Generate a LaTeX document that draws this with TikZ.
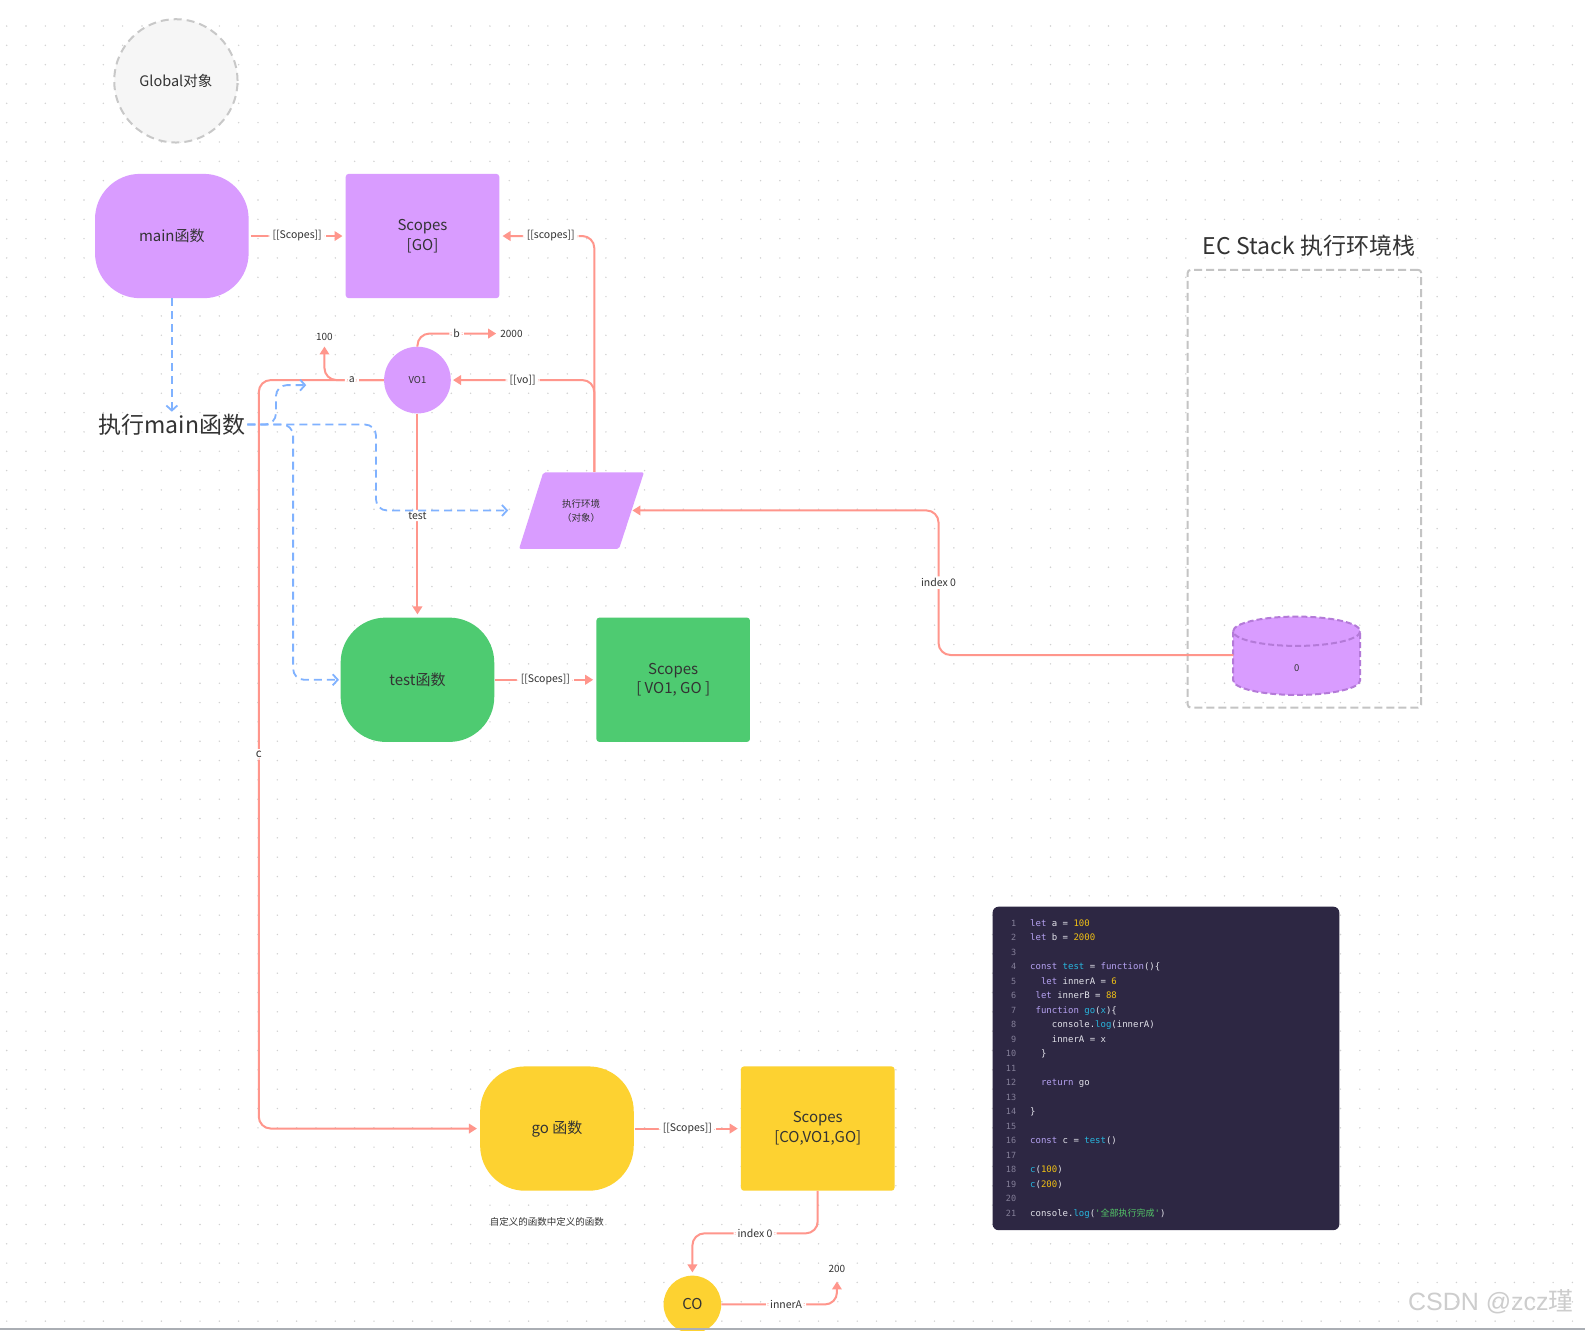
\documentclass[tikz,border=0pt]{standalone}
\usepackage{fontspec}
\setmainfont{Noto Sans CJK SC}
\setmonofont{DejaVu Sans Mono}
\newfontfamily\cjkfont{Noto Sans CJK SC}
\newfontfamily\wmfont{Liberation Sans}
\usetikzlibrary{arrows.meta}
\definecolor{vpurple}{RGB}{217,156,255}
\definecolor{vgreen}{RGB}{78,203,113}
\definecolor{vyellow}{RGB}{253,210,49}
\definecolor{vred}{RGB}{255,150,140}
\definecolor{vblue}{RGB}{128,178,255}
\definecolor{vtext}{RGB}{51,51,51}
\definecolor{vdot}{RGB}{208,208,208}
\definecolor{globaldash}{RGB}{200,200,200}
\definecolor{globalfill}{RGB}{246,246,246}
\definecolor{stackdash}{RGB}{196,196,196}
\definecolor{cyldash}{RGB}{180,122,216}
\definecolor{codebg}{RGB}{45,39,67}
\definecolor{ckw}{RGB}{182,162,242}
\definecolor{cnum}{RGB}{240,192,20}
\definecolor{cfn}{RGB}{40,182,222}
\definecolor{cstr}{RGB}{84,200,104}
\definecolor{cplain}{RGB}{226,226,234}
\definecolor{cln}{RGB}{132,127,152}
\definecolor{wmgray}{RGB}{205,205,205}
\definecolor{bottomgray}{RGB}{170,174,180}
\newcommand\cdK[1]{\textcolor{ckw}{#1}}
\newcommand\cdN[1]{\textcolor{cnum}{#1}}
\newcommand\cdF[1]{\textcolor{cfn}{#1}}
\newcommand\cdS[1]{\textcolor{cstr}{#1}}
\begin{document}
\begin{tikzpicture}[x=1.0108pt,y=-1.0108pt,
  fnbox/.style={rounded corners=45pt, minimum width=153.6pt, minimum height=124.3pt, inner sep=0pt, font=\fontsize{15}{19}\selectfont, text=vtext},
  scopebox/.style={rounded corners=3pt, minimum width=153.6pt, minimum height=124.3pt, inner sep=0pt, align=center, font=\fontsize{15}{19.5}\selectfont, text=vtext},
  redline/.style={draw=vred, line width=2pt, rounded corners=12pt},
  redarrow/.style={redline, -{Triangle[length=8pt,width=9.5pt]}},
  bluearrow/.style={draw=vblue, line width=1.8pt, dash pattern=on 8pt off 5pt, rounded corners=11pt, -{Straight Barb[length=5pt,width=11pt]}},
  elabel/.style={fill=white, inner xsep=4pt, inner ysep=2pt, font=\fontsize{10.5}{12}\selectfont, text=vtext},
  smalltxt/.style={font=\fontsize{10}{12}\selectfont, text=vtext, inner sep=1pt},
  codetxt/.style={font=\ttfamily\fontsize{9}{11}\selectfont, text=cplain, inner sep=0pt, anchor=base west},
  lntxt/.style={font=\ttfamily\fontsize{8.5}{11}\selectfont, text=cln, inner sep=0pt, anchor=base east}
]
\useasboundingbox (0,0) rectangle (1568.07,1315.8);
\fill[white] (0,0) rectangle (1568.07,1315.8);
% dot grid
\begin{scope}[x=1pt,y=-1pt]
\foreach \i in {0,...,81}{\foreach \j in {0,...,67}{\fill[vdot] ({6.7+19.33*\i},{26+19.33*\j}) circle (0.8);}}
\end{scope}

% nodes
\node[circle, draw=globaldash, fill=globalfill, line width=2pt, dash pattern=on 8pt off 5pt, minimum size=123.3pt, inner sep=0pt, font=\fontsize{14.5}{17}\selectfont, text=vtext] (glob) at (174,80) {Global对象};
\node[fnbox, fill=vpurple] (main) at (170,233.5) {main函数};
\node[scopebox, fill=vpurple] (sgo) at (418,233.5) {Scopes\\{[GO]}};
\node[font=\fontsize{23}{27}\selectfont, text=vtext, inner sep=2pt] (exec) at (170,420) {执行main函数};
\node[circle, fill=vpurple, minimum size=66.7pt, inner sep=0pt, font=\fontsize{9.5}{11}\selectfont, text=vtext] (vo1) at (413,376) {VO1};
\node[smalltxt] (v100) at (321,333) {100};
\node[smalltxt] (v2000) at (506,330) {2000};
\fill[vpurple, rounded corners=2pt] (513.5,543.1) -- (537.5,467.3) -- (637.1,467.3) -- (612.4,543.1) -- cycle;
\node[minimum width=100pt, minimum height=76.8pt, inner sep=0pt, align=center, font=\fontsize{9.5}{14}\selectfont, text=vtext] (ee) at (575,505) {执行环境\\（对象）};
\node[fnbox, fill=vgreen] (test) at (413,672.5) {test函数};
\node[scopebox, fill=vgreen] (stest) at (666,672.5) {Scopes\\{[ VO1, GO ]}};
\node[fnbox, fill=vyellow] (go) at (551,1116.5) {go 函数};
\node[scopebox, fill=vyellow] (sco) at (809,1116.5) {Scopes\\{[CO,VO1,GO]}};
\node[font=\fontsize{9.5}{11}\selectfont, text=vtext] (note) at (541,1208.5) {自定义的函数中定义的函数};
\node[circle, fill=vyellow, minimum size=57.6pt, inner sep=0pt, font=\fontsize{15}{18}\selectfont, text=vtext] (co) at (685,1290.5) {CO};
\node[smalltxt] (v200) at (828,1255) {200};

% EC stack
\node[font=\fontsize{23}{27}\selectfont, text=vtext] (ectitle) at (1295,243) {EC Stack 执行环境栈};
\node[draw=stackdash, line width=2pt, dash pattern=on 8pt off 4pt, rounded corners=3pt, minimum width=233.5pt, minimum height=437.7pt, inner sep=0pt] (stack) at (1290.5,483.5) {};
\fill[vpurple] (1220,624.5) rectangle (1345.5,673);
\fill[vpurple] (1282.8,673) ellipse [x radius=62.8, y radius=14.5];
\fill[vpurple] (1282.8,624.5) ellipse [x radius=62.8, y radius=14.5];
\draw[cyldash, line width=2pt, dash pattern=on 6pt off 3pt] (1282.8,624.5) ellipse [x radius=62.8, y radius=14.5];
\draw[cyldash, line width=2pt, dash pattern=on 6pt off 3pt] (1220,624.5) -- (1220,673) arc [start angle=180, end angle=0, x radius=62.8, y radius=14.5] -- (1345.5,624.5);
\node[minimum width=126.4pt, minimum height=78.5pt, inner sep=0pt] (cyl) at (1282.8,648) {};
\node[font=\fontsize{9.5}{11}\selectfont, text=vtext, inner sep=0pt] (cyl0) at (1283,660.5) {0};

% code block
\node[fill=codebg, rounded corners=6pt, minimum width=346.7pt, minimum height=323.5pt, inner sep=0pt] (code) at (1153.5,1057) {};
\foreach \k in {1,...,21}{\node[lntxt] (ln\k) at (1005.5,{916.2+14.35*(\k-1)}) {\k};}
\node[codetxt] (cl1) at (1019,916.2) {\cdK{let} a = \cdN{100}};
\node[codetxt] (cl2) at (1019,930.55) {\cdK{let} b = \cdN{2000}};
\node[codetxt] (cl4) at (1019,959.25) {\cdK{const} \cdF{test} = \cdK{function}()\{};
\node[codetxt] (cl5) at (1019,973.6) {\ \ \cdK{let} innerA = \cdN{6}};
\node[codetxt] (cl6) at (1019,987.95) {\ \cdK{let} innerB = \cdN{88}};
\node[codetxt] (cl7) at (1019,1002.3) {\ \cdK{function} \cdF{go}(\cdF{x})\{};
\node[codetxt] (cl8) at (1019,1016.65) {\ \ \ \ console.\cdF{log}(innerA)};
\node[codetxt] (cl9) at (1019,1031.0) {\ \ \ \ innerA = x};
\node[codetxt] (cl10) at (1019,1045.35) {\ \ \}};
\node[codetxt] (cl12) at (1019,1074.05) {\ \ \cdK{return} go};
\node[codetxt] (cl14) at (1019,1102.75) {\}};
\node[codetxt] (cl16) at (1019,1131.45) {\cdK{const} c = \cdF{test}()};
\node[codetxt] (cl18) at (1019,1160.15) {\cdF{c}(\cdN{100})};
\node[codetxt] (cl19) at (1019,1174.5) {\cdF{c}(\cdN{200})};
\node[codetxt] (cl21) at (1019,1203.2) {console.\cdF{log}(\cdS{'{\cjkfont 全部执行完成}'})};

% red connectors
\draw[redarrow, shorten <=2pt, shorten >=3pt] (main) -- node[elabel] (l1) {[[Scopes]]} (sgo);
\draw[redarrow, shorten >=3pt] ([xshift=13.1pt]ee.north) |- node[elabel, pos=0.73] (l2) {[[scopes]]} (sgo.east);
\draw[redarrow, shorten >=2pt] ([xshift=13.1pt]ee.north) |- node[elabel, pos=0.75] (l3) {[[vo]]} (vo1.east);
\draw[redarrow, shorten >=3pt] (vo1.north) |- node[elabel, pos=0.74] (l4) {b} (v2000.west);
\draw[redarrow, shorten >=3pt] (vo1.west) -- (256,376) |- node[elabel, pos=0.25, font=\fontsize{11.5}{13}\selectfont] (l5) {c} (go.west);
\draw[redarrow, shorten >=5pt] (vo1.west) -| node[elabel, pos=0.27] (l6) {a} (v100.south);
\draw[redarrow, shorten >=3pt] (vo1.south) -- node[elabel] (l7) {test} (test.north);
\draw[redarrow, shorten <=1pt, shorten >=3pt] (test) -- node[elabel] (l8) {[[Scopes]]} (stest);
\draw[redarrow, shorten <=1pt, shorten >=3pt] (go) -- node[elabel] (l9) {[[Scopes]]} (sco);
\draw[redarrow, shorten >=1pt] (cyl.west) -- (928.5,648) |- node[elabel, pos=0.25] (l10) {index 0} (ee.east);
\draw[redarrow, shorten >=3pt] (sco.south) -- ++(0,42) -| node[elabel, pos=0.25] (l11) {index 0} (co.north);
\draw[redarrow, shorten >=8pt] (co.east) -| node[elabel, pos=0.28] (l12) {innerA} (v200.south);

% blue dashed connectors
\coordinate (b1end) at (303,381);
\draw[bluearrow] (main.south) -- (exec.north);
\draw[bluearrow] (exec.east) -- (273,420) |- (b1end);
\draw[bluearrow, shorten >=1.5pt] (exec.east) -- (290,420) |- (test.west);
\draw[bluearrow, shorten >=22.8pt] (exec.east) -- (372,420) |- (ee.west);

% watermark and bottom edge
\node[font=\wmfont\fontsize{25}{30}\selectfont, text=wmgray] (wm) at (1475,1288) {CSDN @zcz{\cjkfont 瑾}};
\draw[bottomgray, line width=2pt] (0,1315) -- (1568.07,1315);
\end{tikzpicture}
\end{document}
